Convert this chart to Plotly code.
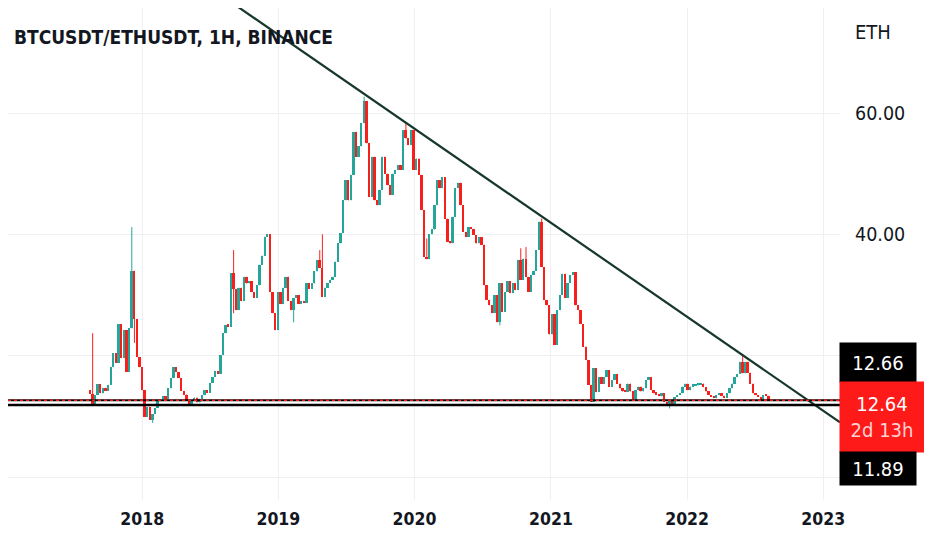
import pandas as pd
import plotly.graph_objects as go

# weekly BTC/ETH ratio
week_start = "2017-08-14"
first_open = 14.3
close = [
    13.7, 12.0, 13.5, 15.3, 13.8, 14.7, 14.2, 15.2, 18.1, 20.4,
    18.8, 25.2, 19.6, 24.2, 17.3, 24.5, 34.0, 26.0, 19.8, 18.1,
    14.3, 9.9, 11.5, 9.4, 10.4, 11.4, 12.5, 12.8, 13.3, 12.9,
    14.6, 16.3, 18.1, 17.3, 16.3, 14.2, 13.6, 12.7, 11.9, 12.6,
    13.1, 12.3, 12.9, 13.5, 14.3, 13.9, 15.5, 16.5, 17.5, 17.0,
    20.1, 23.7, 25.0, 24.8, 33.6, 31.0, 27.5, 31.2, 29.0, 33.0,
    31.9, 32.3, 30.5, 29.5, 31.6, 35.0, 36.5, 39.6, 40.0, 30.5,
    27.0, 24.2, 30.5, 28.5, 31.2, 33.0, 29.0, 27.5, 29.5, 30.0,
    28.5, 29.0, 28.7, 31.9, 31.0, 31.9, 33.9, 35.8, 34.5, 29.7,
    31.2, 32.0, 32.5, 33.0, 35.5, 38.5, 40.2, 45.6, 48.9, 45.6,
    49.8, 56.9, 52.8, 54.5, 58.3, 62.0, 55.0, 46.2, 52.8, 45.6,
    44.8, 47.3, 52.8, 50.0, 48.1, 46.5, 50.0, 50.6, 51.4, 50.6,
    57.2, 55.8, 54.7, 57.2, 50.6, 52.5, 49.8, 44.0, 36.3, 35.9,
    40.0, 40.8, 44.8, 48.9, 47.6, 49.4, 42.6, 38.8, 38.5, 42.9,
    47.6, 48.5, 44.8, 40.4, 39.6, 41.2, 40.9, 39.9, 38.5, 39.5,
    38.3, 31.6, 29.2, 28.3, 27.0, 30.0, 25.5, 31.9, 27.2, 30.5,
    32.3, 30.3, 31.9, 30.8, 35.8, 32.5, 36.0, 33.0, 30.5, 33.3,
    34.0, 37.4, 42.1, 34.6, 29.2, 28.3, 23.5, 26.8, 21.8, 27.5,
    30.0, 33.5, 29.5, 32.0, 33.3, 33.8, 28.3, 27.5, 25.2, 21.5,
    19.3, 15.2, 12.4, 17.9, 14.0, 16.5, 15.4, 16.5, 17.6, 14.9,
    16.0, 17.0, 15.4, 14.6, 14.1, 14.0, 15.4, 14.1, 12.7, 14.3,
    14.9, 14.1, 14.6, 16.0, 16.5, 14.3, 13.8, 13.6, 13.3, 13.8,
    12.4, 11.9, 12.7, 12.0, 13.2, 13.5, 13.8, 14.9, 15.4, 14.3,
    14.9, 15.0, 15.1, 15.2, 15.4, 14.8, 14.1, 13.5, 13.2, 13.0,
    13.5, 13.8, 13.4, 13.0, 13.8, 14.6, 15.4, 16.5, 17.0, 19.0,
    17.1, 19.0, 17.2, 15.4, 13.8, 13.5, 13.2, 12.7, 13.5, 13.4,
    12.64,
]
# weeks whose wick sticks out past the body
high_weeks = [1, 16, 55, 69, 88, 89, 105, 121, 129, 165, 167, 173, 250]
high_values = [23.7, 41.2, 37.4, 38.4, 37.4, 40.0, 62.7, 58.4, 39.3, 37.7, 37.9, 42.6, 20.1]
low_weeks = [17, 24, 55, 78, 157, 222]
low_values = [22.1, 8.9, 27.0, 25.5, 25.0, 11.3]

# drawn objects
trend_dates = ["2018-08-19", "2023-02-15"]
trend_values = [78.63, 9.02]
level_values = [12.66, 11.89]
last_price = 12.64
countdown = "2d 13h"

years = ["2018", "2019", "2020", "2021", "2022", "2023"]
price_ticks = [0, 20, 40, 60]
price_labels = ["", "", "40.00", "60.00"]

UP = "#26a69a"
DOWN = "#f7201c"
TEXT = "#131722"
GRID = "#eef0f4"
NARROW = "Liberation Sans Narrow, DejaVu Sans Condensed, Roboto, sans-serif"

dates = pd.date_range(week_start, periods=len(close), freq="7D")
opens = [first_open] + close[:-1]
highs = [max(o, c) for o, c in zip(opens, close)]
lows = [min(o, c) for o, c in zip(opens, close)]
for i, v in zip(high_weeks, high_values):
    highs[i] = v
for i, v in zip(low_weeks, low_values):
    lows[i] = v

rising = [c >= o for o, c in zip(opens, close)]
colors = [UP if r else DOWN for r in rising]
base = [min(o, c) for o, c in zip(opens, close)]
body = [max(abs(c - o), 0.35) for o, c in zip(opens, close)]

fig = go.Figure()

# wicks
for flag, color in [(True, UP), (False, DOWN)]:
    wx, wy = [], []
    for d, lo, hi, r in zip(dates, lows, highs, rising):
        if r == flag:
            wx += [d, d, None]
            wy += [lo, hi, None]
    fig.add_scatter(x=wx, y=wy, mode="lines", line={"color": color, "width": 1},
                    hoverinfo="skip")

fig.add_bar(
    x=dates,
    y=body,
    base=base,
    width=5.0 * 86400000,
    marker={"color": colors, "line": {"width": 0}},
)

fig.add_scatter(x=trend_dates, y=trend_values, mode="lines",
                line={"color": "#16372c", "width": 2.2})

# horizontal levels and last price line
fig.add_shape(type="line", xref="paper", x0=0, x1=1, yref="y",
              y0=level_values[0], y1=level_values[0],
              line={"color": "black", "width": 2})
fig.add_shape(type="line", xref="paper", x0=0, x1=1, yref="y",
              y0=level_values[1], y1=level_values[1],
              line={"color": "black", "width": 2.5})
fig.add_shape(type="line", xref="paper", x0=0, x1=1, yref="y",
              y0=last_price, y1=last_price,
              line={"color": DOWN, "width": 1.5, "dash": "dot"})

fig.add_annotation(text="BTCUSDT/ETHUSDT, 1H, BINANCE", xref="paper", yref="paper",
                   x=0.005, y=0.941, xanchor="left", yanchor="middle", showarrow=False,
                   font={"family": NARROW, "size": 19, "color": TEXT, "weight": "bold"})
fig.add_annotation(text="ETH", xref="paper", yref="paper", x=1, xshift=33,
                   y=0.951, xanchor="center", yanchor="middle", showarrow=False,
                   font={"family": NARROW, "size": 20, "color": TEXT})

boxes = [
    (f"{level_values[0]:.2f}", "black", 76, 39, 0.2795),
    (f"{last_price:.2f}<br><span style='color:#ffd2d2'>{countdown}</span>", "#ff1a1a", 84, 70, 0.1687),
    (f"{level_values[1]:.2f}", "black", 76, 33, 0.064),
]
for text, bg, w, h, yy in boxes:
    fig.add_annotation(text=text, xref="paper", yref="paper", x=1, xshift=-1,
                       y=yy, xanchor="left", yanchor="middle", showarrow=False,
                       width=w, height=h, bgcolor=bg, borderpad=0, align="center",
                       font={"family": NARROW, "size": 20, "color": "white"})

# page body adds an 8px offset, so the figure is 8px smaller and the view starts 8px in
fig.update_layout(
    width=924,
    height=542,
    margin={"l": 0, "r": 92, "t": 0, "b": 50},
    paper_bgcolor="white",
    plot_bgcolor="white",
    showlegend=False,
    bargap=0,
    xaxis={
        "type": "date",
        "range": ["2017-01-06", "2023-02-15"],
        "tickvals": [f"{y}-01-01" for y in years],
        "ticktext": years,
        "showgrid": True,
        "gridcolor": GRID,
        "zeroline": False,
        "showline": False,
        "ticks": "",
        "ticklabelstandoff": 6,
        "tickfont": {"family": NARROW, "size": 17.5, "color": TEXT, "weight": "bold"},
    },
    yaxis={
        "side": "right",
        "range": [-3.79, 77.31],
        "tickvals": price_ticks,
        "ticktext": price_labels,
        "showgrid": True,
        "gridcolor": GRID,
        "zeroline": False,
        "ticks": "",
        "ticklabelstandoff": 14,
        "tickfont": {"family": NARROW, "size": 19.5, "color": TEXT},
    },
)

fig.write_html("out.html")
